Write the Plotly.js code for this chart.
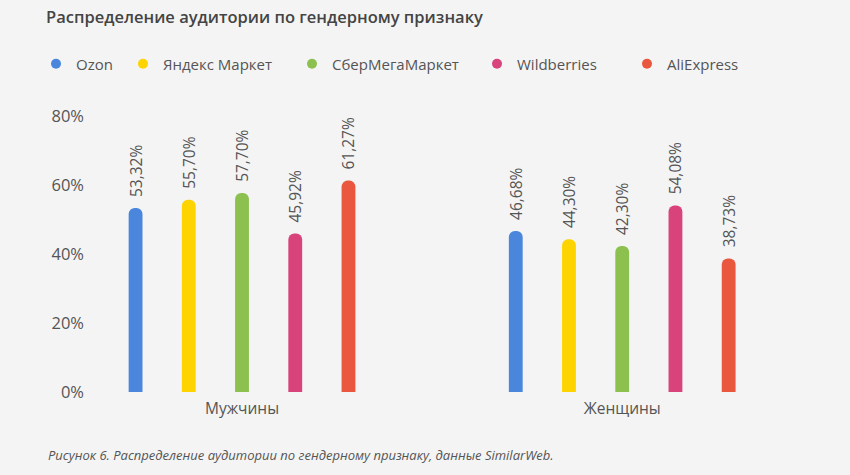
<!DOCTYPE html>
<html><head><meta charset="utf-8">
<script src="https://cdn.plot.ly/plotly-3.0.1.min.js"></script>
<style>html,body{margin:0;padding:0;background:#f4f4f4;}#chart{width:850px;height:475px;}</style>
</head><body><div id="chart"></div>
<script>
const categories = ["Мужчины", "Женщины"];
const seriesNames = ["Ozon", "Яндекс Маркет", "СберМегаМаркет", "Wildberries", "AliExpress"];
const ozon = [53.32, 46.68];
const yandex = [55.70, 44.30];
const sber = [57.70, 42.30];
const wildberries = [45.92, 54.08];
const aliexpress = [61.27, 38.73];
const yTickVals = [0, 20, 40, 60, 80];
const yTickText = ["0%", "20%", "40%", "60%", "80%"];
const colors = ["#4a87dc", "#fed400", "#8cc04f", "#d9437b", "#e9573f"];
const legendX = [36, 123, 292, 477, 627];

const values = [ozon, yandex, sber, wildberries, aliexpress];
const FONT = "Open Sans, sans-serif";
const traces = [];
values.forEach((v, i) => {
  traces.push({
    type: "bar", x: categories, y: v, name: seriesNames[i],
    marker: {color: colors[i], cornerradius: 7},
    texttemplate: "\u00A0\u00A0%{y:.2f}%", textposition: "outside", textangle: -90, constraintext: "none",
    textfont: {family: FONT, size: 15.5, color: "#555"},
    cliponaxis: false, showlegend: false, hoverinfo: "skip"
  });
});
const legends = {};
seriesNames.forEach((n, i) => {
  const key = i === 0 ? "legend" : "legend" + (i + 1);
  traces.push({
    type: "scatter", mode: "markers", x: [null], y: [null], name: n,
    marker: {color: colors[i], size: 10, symbol: "circle"},
    legend: key, showlegend: true
  });
  legends[key] = {
    xref: "container", yref: "container", x: legendX[i] / 850, y: 1 - 64 / 475,
    xanchor: "left", yanchor: "middle", orientation: "h",
    font: {family: FONT, size: 15, color: "#555"}, bgcolor: "rgba(0,0,0,0)",
    itemwidth: 30, tracegroupgap: 0
  };
});

const layout = Object.assign({
  width: 850, height: 475,
  paper_bgcolor: "#f4f4f4", plot_bgcolor: "#f4f4f4",
  separators: ", ",
  margin: {l: 85, r: 70, t: 116, b: 83},
  title: {text: "Распределение аудитории по гендерному признаку", xref: "container", yref: "container",
    x: 46 / 850, xanchor: "left", y: 1 - 17 / 475, yanchor: "middle",
    font: {family: FONT, size: 16.5, color: "#444", weight: 600}},
  barmode: "group", bargap: 0.30, bargroupgap: 0.74,
  xaxis: {type: "category", range: [-0.413, 1.415], showgrid: false, zeroline: false, showline: false,
    ticks: "", ticklabelstandoff: 5, tickfont: {family: FONT, size: 15.5, color: "#555"}, fixedrange: true},
  yaxis: {range: [0, 80], tickvals: yTickVals, ticktext: yTickText, showgrid: false, zeroline: false,
    showline: false, ticks: "", tickfont: {family: FONT, size: 16.5, color: "#555"}, fixedrange: true},
  annotations: [{
    text: "Рисунок 6. Распределение аудитории по гендерному признаку, данные SimilarWeb.",
    xref: "paper", yref: "paper", x: (46 - 85) / 695, y: -63 / 276, xanchor: "left", yanchor: "middle",
    showarrow: false, font: {family: FONT, size: 13, color: "#555", style: "italic"}
  }]
}, legends);

Plotly.newPlot("chart", traces, layout, {displayModeBar: false, staticPlot: true});
</script></body></html>
